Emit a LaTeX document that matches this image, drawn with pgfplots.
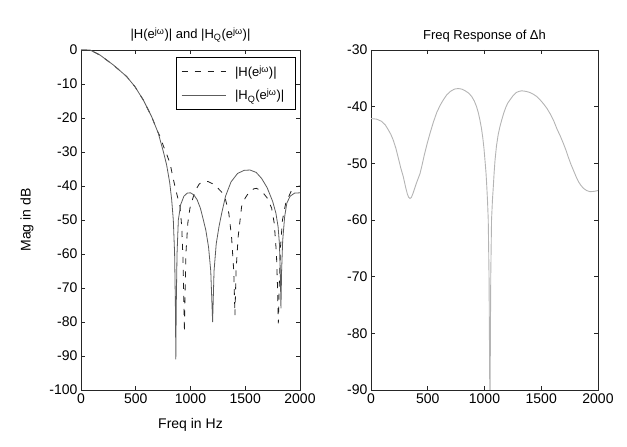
\documentclass[border=0pt]{standalone}
\usepackage{fontspec}
\setmainfont{Liberation Sans}
\usepackage{pgfplots}
\pgfplotsset{compat=1.18}

\definecolor{hqgray}{HTML}{5C5C5C}
\definecolor{hdark}{HTML}{1E1E1E}
\definecolor{dhgray}{HTML}{B4B4B4}

\pgfplotsset{
  matbox/.style={
    scale only axis,
    anchor=south west,
    height=340pt,
    xmin=0, xmax=2000,
    xtick={0,500,...,2000},
    axis line style={line width=0.8pt, black!85},
    tick style={line width=0.7pt, black!85},
    tick align=inside,
    major tick length=4pt,
    xtick pos=both, ytick pos=both,
    ticklabel style={font=\fontsize{14}{16}\selectfont},
    /pgf/number format/assume math mode=true,
    /pgf/number format/1000 sep={},
    title style={font=\fontsize{13}{15}\selectfont, yshift=-2pt},
    label style={font=\fontsize{14}{16}\selectfont},
    xlabel style={yshift=-8pt},
    ylabel style={yshift=9pt},
    legend image code/.code={\draw[#1] (0pt,0pt) -- (44pt,0pt);},
  }
}

\begin{document}
\begin{tikzpicture}
\path[use as bounding box] (0,0) rectangle (627pt,447pt);

% left panel: |H| and |H_Q|
\begin{axis}[matbox,
  at={(81pt,57pt)}, width=219pt,
  ymin=-100, ymax=0, ytick={-100,-90,...,0},
  title={|H(e\textsuperscript{jω})| and |H\textsubscript{Q}(e\textsuperscript{jω})|},
  xlabel={Freq in Hz}, ylabel={Mag in dB},
  legend style={at={(0.98,0.979)}, anchor=north east, draw=black, line width=0.7pt,
    font=\fontsize{13}{15}\selectfont, legend cell align=left,
    row sep=7pt, inner xsep=5pt, inner ysep=6pt,
    nodes={inner xsep=6pt},
    /tikz/every odd column/.append style={column sep=3pt}},
]
\addplot[hdark, line width=0.8pt, dash pattern=on 6pt off 7pt] coordinates {
(0,0) (82,0) (174,-1.5) (295,-4.4) (417,-7.8) (493,-10.8) (569,-14.7)
(645,-19.6) (700,-24) (720,-25.3) (752,-28.2) (777,-30.2) (813,-33.3)
(843,-38) (880,-43) (904,-46) (920,-52) (932,-62) (940,-75) (944,-83)
(948,-75) (958,-60) (975,-51) (995,-46.5) (1041,-41.5) (1080,-39.4)
(1120,-38.7) (1160,-38.7) (1200,-39.3) (1240,-40.3) (1285,-41.8)
(1320,-44) (1350,-48) (1375,-55) (1395,-65) (1406,-78) (1416,-65)
(1435,-55) (1467,-46) (1500,-43.5) (1540,-41.6) (1580,-40.8) (1604,-40.7)
(1650,-41.5) (1700,-43.5) (1741,-46.5) (1765,-51) (1785,-60) (1795,-70)
(1802,-80.4) (1810,-70) (1822,-58) (1840,-50) (1870,-45) (1920,-41.5)
(1960,-40.3) (2000,-40)
};
\addlegendentry{|H(e\textsuperscript{jω})|}
\addplot[hqgray, line width=0.8pt] coordinates {
(0,0) (82,0) (174,-1.5) (295,-4.4) (417,-7.8) (493,-10.8) (569,-14.7)
(645,-19.6) (706,-24.5) (752,-29.9) (782,-33.8) (810,-39) (828,-44)
(843,-50) (855,-60) (862,-75) (866,-91) (870,-75) (877,-60) (889,-50)
(910,-45.5) (940,-43) (970,-42.1) (1000,-42) (1030,-42.6) (1060,-44)
(1090,-46.5) (1110,-49) (1140,-53) (1165,-58) (1185,-65) (1202,-80)
(1215,-65) (1235,-57) (1260,-52) (1285,-48) (1320,-43) (1370,-38.8)
(1430,-36.3) (1490,-35.4) (1543,-35.3) (1600,-36) (1650,-37.8)
(1700,-40.5) (1750,-44.5) (1780,-48) (1800,-52) (1812,-57) (1820,-65)
(1826,-76) (1832,-65) (1842,-56) (1860,-49) (1880,-45) (1910,-43)
(1950,-42.1) (2000,-42)
};
\addlegendentry{|H\textsubscript{Q}(e\textsuperscript{jω})|}
\end{axis}

% right panel: response of delta h
\begin{axis}[matbox,
  at={(371pt,57pt)}, width=227pt,
  ymin=-90, ymax=-30, ytick={-90,-80,...,-30},
  title={Freq Response of Δh},
]
\addplot[dhgray, line width=0.9pt] coordinates {
(0,-42.1) (50,-42.2) (94,-42.6) (125,-43.2) (150,-44) (175,-44.9)
(196,-45.9) (220,-47.4) (240,-49) (262,-50.8) (285,-52.4) (305,-54.2)
(320,-55.4) (332,-56) (344,-56.2) (356,-56) (370,-55.3) (385,-54.4)
(400,-53.5) (415,-52.7) (432,-51.8) (450,-50.3) (470,-48.5) (495,-46.5)
(520,-44.7) (550,-42.7) (580,-41) (608,-39.8) (637,-38.8) (668,-37.9)
(700,-37.3) (735,-36.9) (769,-36.8) (800,-36.9) (830,-37.2) (860,-37.6)
(887,-38.2) (910,-39) (930,-40) (946,-41.1) (960,-42.4) (973,-43.8)
(985,-45.5) (995,-47.3) (1004,-49.4) (1013,-51.6) (1020,-54) (1027,-56.8)
(1033,-60) (1040,-70) (1048,-95) (1055,-70) (1062,-60) (1070,-56.5)
(1078,-54) (1085,-51.6) (1093,-49.4) (1105,-47) (1120,-45) (1135,-43.6)
(1151,-42.4) (1170,-41.1) (1190,-40) (1207,-39.3) (1225,-38.8)
(1250,-38.1) (1280,-37.5) (1305,-37.3) (1328,-37.2) (1365,-37.3)
(1400,-37.5) (1430,-37.8) (1460,-38.2) (1490,-38.8) (1520,-39.5)
(1550,-40.3) (1577,-41.2) (1610,-42.5) (1640,-44) (1668,-45.2)
(1695,-46.5) (1720,-47.8) (1740,-49) (1762,-50.2) (1783,-51.2)
(1808,-52.4) (1830,-53.3) (1850,-53.9) (1871,-54.4) (1900,-54.8)
(1930,-55) (1965,-54.95) (2000,-54.8)
};
\end{axis}
\end{tikzpicture}
\end{document}
